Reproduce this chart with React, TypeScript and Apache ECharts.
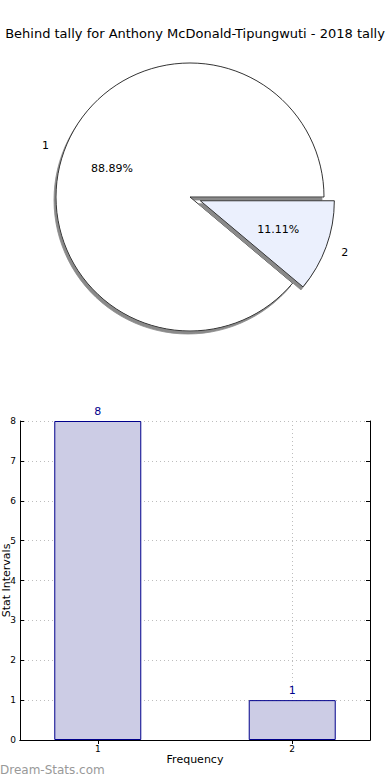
import React, { useEffect, useRef } from 'react';
import * as echarts from 'echarts';

const TITLE = 'Behind tally for Anthony McDonald-Tipungwuti - 2018 tally';
const pieNames = ['1', '2'];
const pieValues = [8, 1];
const pieColors = ['#ffffff', '#ebf0fd'];
const barCategories = [1, 2];
const barValues = [8, 1];
const xTickValues = [1, 2];
const WATERMARK = 'Dream-Stats.com';

const FONT = 'DejaVu Sans';

export default function App() {
  const ref = useRef<HTMLDivElement>(null);
  useEffect(() => {
    if (!ref.current) return;
    const chart = echarts.init(ref.current, undefined, { renderer: 'svg' });
    const pieData = pieNames.map((n, i) => ({
      name: n,
      value: pieValues[i],
      selected: i === 1,
      itemStyle: { color: pieColors[i] },
    }));
    const pctData = pieNames.map((n, i) => ({
      name: n,
      value: pieValues[i],
      selected: i === 1,
    }));
    const dotted = { color: '#bdbdbd', type: [1, 3] as any, width: 1 };
    chart.setOption({
      animation: false,
      backgroundColor: '#ffffff',
      textStyle: { fontFamily: FONT },
      title: {
        text: TITLE,
        left: 'center',
        top: 22,
        textStyle: { fontFamily: FONT, fontSize: 13, fontWeight: 'normal', color: '#000' },
      },
      graphic: [
        {
          type: 'text',
          left: 0,
          top: 764,
          style: { text: WATERMARK, fontFamily: FONT, fontSize: 12, fill: '#999999' },
        },
      ],
      grid: { left: 20, right: 20, top: 421, bottom: 40, containLabel: false, outerBoundsMode: 'none' } as any,
      xAxis: [
        {
          type: 'value',
          min: 0.6,
          max: 2.4,
          name: 'Frequency',
          nameLocation: 'middle',
          nameGap: 14,
          nameMoveOverlap: false,
          nameTextStyle: { fontFamily: FONT, fontSize: 11, color: '#000' },
          axisLine: { show: true, lineStyle: { color: '#000', width: 1 } },
          axisTick: { show: true, inside: true, length: 4, customValues: xTickValues, lineStyle: { color: '#000' } },
          axisLabel: { customValues: xTickValues, fontSize: 9, color: '#000', margin: 4, fontFamily: FONT },
          splitLine: { show: true, lineStyle: dotted },
        },
        {
          type: 'value',
          position: 'top',
          min: 0.6,
          max: 2.4,
          axisLine: { show: true, lineStyle: { color: '#000', width: 1 } },
          axisTick: { show: true, inside: true, length: 4, customValues: xTickValues, lineStyle: { color: '#000' } },
          axisLabel: { show: false, customValues: xTickValues },
          splitLine: { show: false },
        },
      ],
      yAxis: [
        {
          type: 'value',
          min: 0,
          max: 8,
          interval: 1,
          name: 'Stat Intervals',
          nameLocation: 'middle',
          nameGap: 8,
          nameMoveOverlap: false,
          nameTextStyle: { fontFamily: FONT, fontSize: 11, color: '#000' },
          axisLine: { show: true, lineStyle: { color: '#000', width: 1 } },
          axisTick: { show: true, inside: true, length: 4, lineStyle: { color: '#000' } },
          axisLabel: { fontSize: 9, color: '#000', margin: 4, fontFamily: FONT },
          splitLine: { show: true, lineStyle: dotted },
        },
        {
          type: 'value',
          position: 'right',
          min: 0,
          max: 8,
          interval: 1,
          axisLine: { show: true, lineStyle: { color: '#000', width: 1 } },
          axisTick: { show: true, inside: true, length: 4, lineStyle: { color: '#000' } },
          axisLabel: { show: false },
          splitLine: { show: false },
        },
      ],
      series: [
        {
          type: 'pie',
          center: [190, 197],
          radius: 134,
          startAngle: 0,
          clockwise: false,
          selectedMode: 'single',
          selectedOffset: 11,
          silent: true,
          avoidLabelOverlap: false,
          emphasis: { disabled: true },
          label: {
            show: true,
            position: 'outside',
            formatter: '{b}',
            fontSize: 11,
            fontFamily: FONT,
            color: '#000',
            distanceToLabelLine: 0,
          },
          labelLine: { show: false, length: 16, length2: 0 },
          itemStyle: {
            borderColor: '#000',
            borderWidth: 0.8,
            shadowColor: '#8a8a8a',
            shadowOffsetX: -2,
            shadowOffsetY: 3,
            shadowBlur: 0,
          },
          data: pieData,
        },
        {
          type: 'pie',
          center: [190, 197],
          radius: [60, 100],
          startAngle: 0,
          clockwise: false,
          selectedMode: 'single',
          selectedOffset: 11,
          silent: true,
          avoidLabelOverlap: false,
          emphasis: { disabled: true },
          label: {
            show: true,
            position: 'inside',
            formatter: '{d}%',
            fontSize: 11,
            fontFamily: FONT,
            color: '#000',
            textBorderWidth: 0,
          },
          labelLine: { show: false },
          itemStyle: { color: 'rgba(0,0,0,0)', borderWidth: 0 },
          data: pctData,
        },
        {
          type: 'bar',
          xAxisIndex: 0,
          yAxisIndex: 0,
          barWidth: 87,
          silent: true,
          itemStyle: { color: '#ccccE5', borderColor: '#00008b', borderWidth: 1 },
          label: { show: true, position: 'top', distance: 4, fontSize: 11, fontFamily: FONT, color: '#00008b' },
          data: barCategories.map((c, i) => [c, barValues[i]]),
        },
      ],
    });
    return () => chart.dispose();
  }, []);
  return (
    <div
      ref={ref}
      style={{ position: 'fixed', left: 0, top: 0, width: 390, height: 780 }}
    />
  );
}
